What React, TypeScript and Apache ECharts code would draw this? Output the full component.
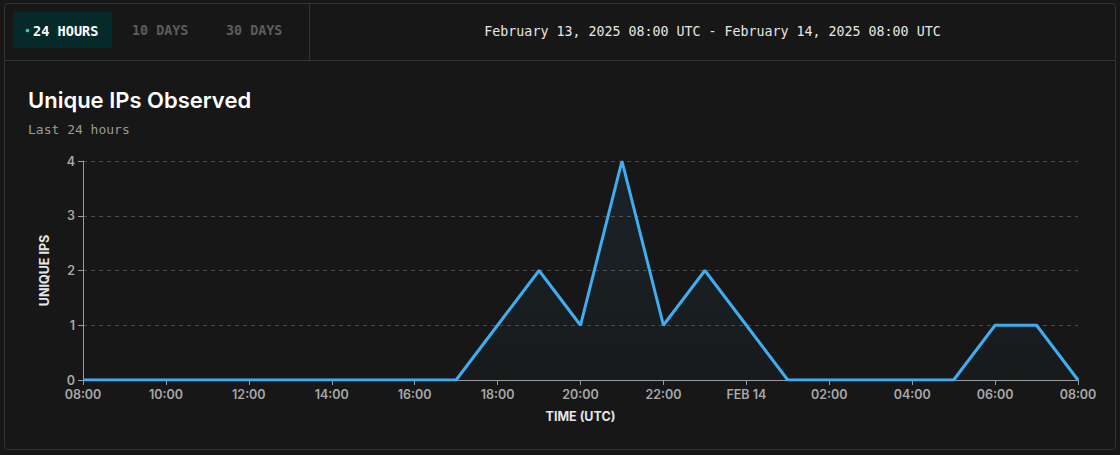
import React, { useEffect, useRef } from "react";
import * as echarts from "echarts";

const hours: string[] = [
  "08:00", "09:00", "10:00", "11:00", "12:00", "13:00", "14:00", "15:00", "16:00",
  "17:00", "18:00", "19:00", "20:00", "21:00", "22:00", "23:00", "FEB 14",
  "01:00", "02:00", "03:00", "04:00", "05:00", "06:00", "07:00", "08:00",
];
const uniqueIps: number[] = [
  0, 0, 0, 0, 0, 0, 0, 0, 0,
  0, 1, 2, 1, 4, 1, 2, 1,
  0, 0, 0, 0, 0, 1, 1, 0,
];
const yTicks: number[] = [0, 1, 2, 3, 4];
const tabs: string[] = ["24 HOURS", "10 DAYS", "30 DAYS"];
const rangeText = "February 13, 2025 08:00 UTC - February 14, 2025 08:00 UTC";
const titleText = "Unique IPs Observed";
const subtitleText = "Last 24 hours";

const MONO = "'DejaVu Sans Mono', 'Liberation Mono', monospace";
const SANS = "Inter, 'Noto Sans', sans-serif";

export default function App() {
  const ref = useRef<HTMLDivElement>(null);
  useEffect(() => {
    if (!ref.current) return;
    const chart = echarts.init(ref.current, undefined, { renderer: "svg" });
    const border = "#333333";
    chart.setOption({
      animation: false,
      backgroundColor: "#171717",
      graphic: [
        { type: "rect", shape: { x: 4.5, y: 3.5, width: 1111, height: 446, r: 3 }, style: { fill: "none", stroke: border, lineWidth: 1 }, silent: true },
        { type: "line", shape: { x1: 4.5, y1: 60.5, x2: 1115.5, y2: 60.5 }, style: { stroke: border, lineWidth: 1 }, silent: true },
        { type: "line", shape: { x1: 309.5, y1: 3.5, x2: 309.5, y2: 60.5 }, style: { stroke: border, lineWidth: 1 }, silent: true },
        { type: "rect", shape: { x: 13, y: 12, width: 99, height: 36, r: 2 }, style: { fill: "#062a2a" }, silent: true },
        { type: "circle", shape: { cx: 27.5, cy: 30.5, r: 1.8 }, style: { fill: "#2dd4bf" }, silent: true },
        { type: "text", x: 33, y: 30.5, style: { text: tabs[0], fill: "#ffffff", font: `bold 13.6px ${MONO}`, verticalAlign: "middle" }, silent: true },
        { type: "text", x: 132, y: 30, style: { text: tabs[1], fill: "#5c5c5c", font: `bold 13.4px ${MONO}`, verticalAlign: "middle" }, silent: true },
        { type: "text", x: 226, y: 30, style: { text: tabs[2], fill: "#5c5c5c", font: `bold 13.4px ${MONO}`, verticalAlign: "middle" }, silent: true },
        { type: "text", x: 712.5, y: 31.5, style: { text: rangeText, fill: "#e6e6e6", font: `13.3px ${MONO}`, align: "center", verticalAlign: "middle" }, silent: true },
        { type: "text", x: 28, y: 100, style: { text: titleText, fill: "#ffffff", font: `600 22px ${SANS}`, verticalAlign: "middle" }, silent: true },
        { type: "text", x: 28, y: 129, style: { text: subtitleText, fill: "#9a9a9a", font: `13px ${MONO}`, verticalAlign: "middle" }, silent: true },
      ],
      grid: { left: 83, right: 42, top: 161, bottom: 75, containLabel: false },
      xAxis: {
        type: "category",
        data: hours,
        boundaryGap: false,
        name: "TIME (UTC)",
        nameLocation: "middle",
        nameGap: 30,
        nameTextStyle: { color: "#e6e6e6", fontFamily: SANS, fontWeight: "bold", fontSize: 12.5 },
        axisLine: { lineStyle: { color: "#9a9a9a", width: 1 } },
        axisTick: { interval: 1, length: 5, lineStyle: { color: "#9a9a9a" } },
        axisLabel: { interval: 1, color: "#a8a8a8", fontFamily: SANS, fontWeight: 600, fontSize: 12.5, margin: 8 },
        splitLine: { show: false },
      },
      yAxis: {
        type: "value",
        min: yTicks[0],
        max: yTicks[yTicks.length - 1],
        interval: 1,
        name: "UNIQUE IPS",
        nameLocation: "middle",
        nameGap: 32,
        nameTextStyle: { color: "#e6e6e6", fontFamily: SANS, fontWeight: "bold", fontSize: 12.5 },
        axisLine: { show: true, lineStyle: { color: "#9a9a9a", width: 1 } },
        axisTick: { show: true, length: 5, lineStyle: { color: "#9a9a9a" } },
        axisLabel: { color: "#a8a8a8", fontFamily: SANS, fontWeight: 600, fontSize: 12.5, margin: 8 },
        splitLine: { show: true, lineStyle: { color: "#4a4a4a", type: [4, 4], width: 1 } },
      },
      series: [
        {
          type: "line",
          data: uniqueIps,
          showSymbol: false,
          lineStyle: { color: "#3faef0", width: 3 },
          itemStyle: { color: "#3faef0" },
          areaStyle: {
            color: new echarts.graphic.LinearGradient(0, 0, 0, 1, [
              { offset: 0, color: "rgba(63,174,240,0.12)" },
              { offset: 1, color: "rgba(63,174,240,0.03)" },
            ]),
          },
          silent: true,
        },
      ],
    });
    return () => chart.dispose();
  }, []);
  return (
    <div
      ref={ref}
      style={{ position: "fixed", left: 0, top: 0, width: 1120, height: 455 }}
    />
  );
}
